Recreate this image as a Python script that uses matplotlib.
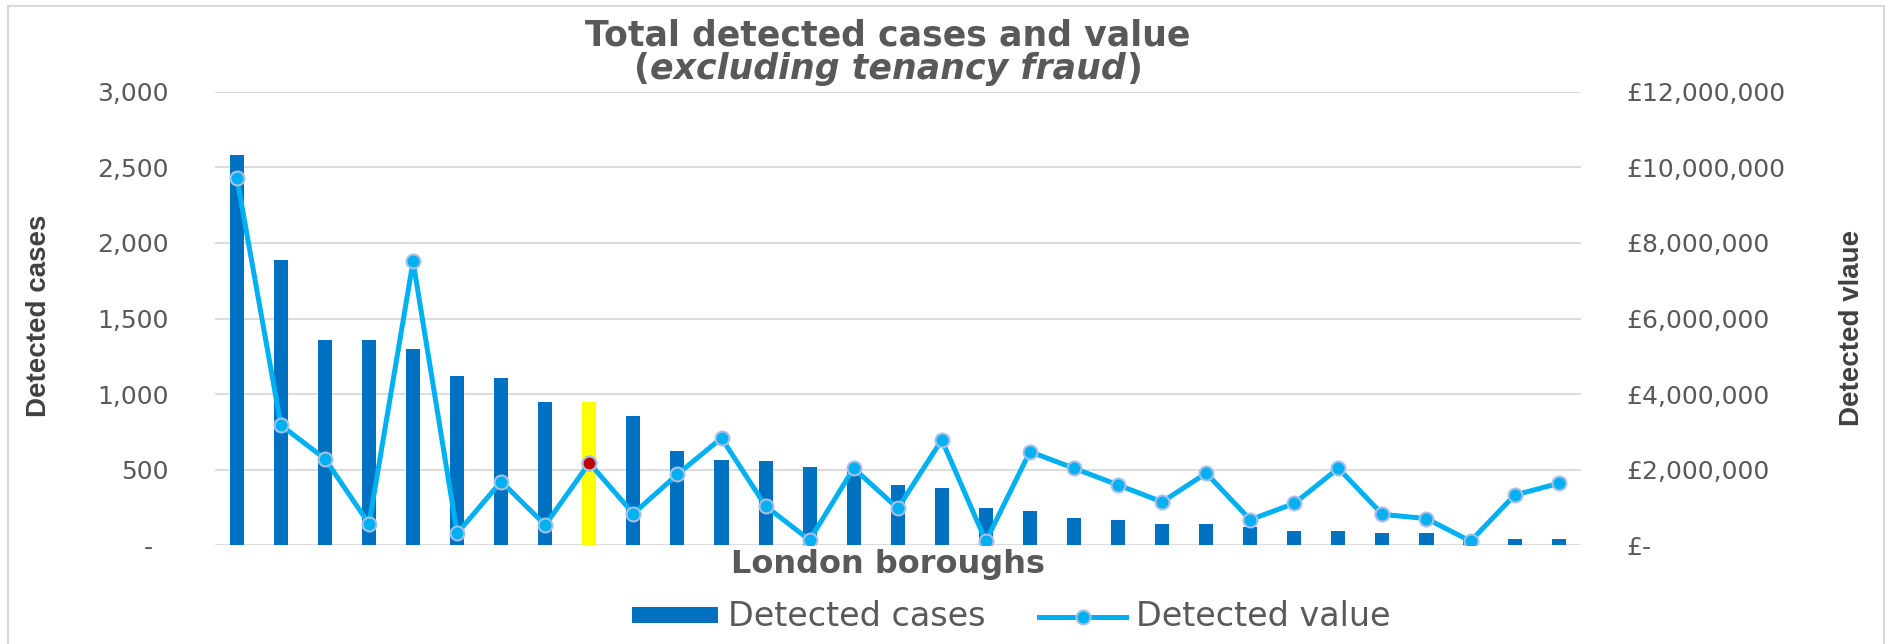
#!/usr/bin/env python3

import numpy as np
import matplotlib
matplotlib.use('Agg')
from matplotlib import pyplot as plt
from matplotlib import font_manager
from matplotlib.patches import Rectangle, Patch
from matplotlib.lines import Line2D

# one entry per London borough, sorted by detected cases
cases = [2580, 1890, 1360, 1360, 1300, 1120, 1110, 947, 947, 855,
         625, 567, 560, 516, 500, 398, 382, 244, 227, 182,
         167, 142, 142, 120, 93, 93, 82, 82, 60, 42, 42]
values = [9.73e6, 3.18e6, 2.29e6, 0.57e6, 7.51e6, 0.32e6, 1.69e6, 0.54e6, 2.18e6, 0.84e6,
          1.88e6, 2.84e6, 1.04e6, 0.14e6, 2.04e6, 0.98e6, 2.79e6, 0.11e6, 2.48e6, 2.04e6,
          1.60e6, 1.15e6, 1.91e6, 0.68e6, 1.11e6, 2.04e6, 0.82e6, 0.71e6, 0.11e6, 1.33e6, 1.64e6]
highlight = 8   # the borough picked out in yellow / red

left_ticks = [0, 500, 1000, 1500, 2000, 2500, 3000]
left_labels = ['-  ', '500', '1,000', '1,500', '2,000', '2,500', '3,000']
right_ticks = [0, 2e6, 4e6, 6e6, 8e6, 10e6, 12e6]
right_labels = ['£-', '£2,000,000', '£4,000,000', '£6,000,000', '£8,000,000',
                '£10,000,000', '£12,000,000']

BAR = '#0070C0'
LINE = '#00B0F0'
EDGE = '#A6BFE6'
GREY = '#595959'
GRID = '#D9D9D9'

installed = {f.name for f in font_manager.fontManager.ttflist}
if 'Liberation Sans Narrow' in installed:
    label_font, label_size = 'Liberation Sans Narrow', 23
else:
    label_font, label_size = 'Liberation Sans', 20

W, H = 1892, 644
fig = plt.figure(figsize=(W / 100, H / 100), dpi=100)
ax = fig.add_axes((214.8 / W, 1 - 545.4 / H, (1580.7 - 214.8) / W, (545.4 - 91.7) / H))
ax2 = ax.twinx()

x = np.arange(len(cases))
colors = [BAR] * len(cases)
colors[highlight] = '#FFFF00'
ax.bar(x, cases, width=0.32, color=colors, zorder=2)

ax2.plot(x, values, color=LINE, lw=3.6, marker='o', ms=10,
         mfc=LINE, mec=EDGE, mew=1.5, zorder=3)
ax2.plot([x[highlight]], [values[highlight]], ls='none', marker='o', ms=10,
         mfc='#C00000', mec=EDGE, mew=1.5, zorder=4)

ax.set_xlim(-0.5, len(cases) - 0.5)
ax.set_ylim(0, 3000)
ax2.set_ylim(0, 12e6)
ax.set_xticks([])
ax.set_yticks(left_ticks)
ax.set_yticklabels(left_labels)
ax2.set_yticks(right_ticks)
ax2.set_yticklabels(right_labels)
ax.set_axisbelow(True)
ax.yaxis.grid(True, color=GRID, lw=1.3)

for a in (ax, ax2):
    for s in a.spines.values():
        s.set_visible(False)
    a.tick_params(length=0, labelsize=18, labelcolor=GREY, pad=33)

# titles and labels
fig.text(888 / W, 1 - 36 / H, 'Total detected cases and value', ha='center', va='center',
         fontsize=25, fontweight='bold', color=GREY)
mid = fig.text(888 / W, 1 - 69 / H, 'excluding tenancy fraud', ha='center', va='center',
               fontsize=25, fontweight='bold', style='italic', color=GREY)
ax.annotate('(', xy=(0, 0.5), xycoords=mid, ha='right', va='center',
            fontsize=25, fontweight='bold', color=GREY, annotation_clip=False)
ax.annotate(')', xy=(1, 0.5), xycoords=mid, ha='left', va='center',
            fontsize=25, fontweight='bold', color=GREY, annotation_clip=False)

fig.text(888 / W, 1 - 564 / H, 'London boroughs', ha='center', va='center',
         fontsize=23, fontweight='bold', color=GREY)

fig.text(39 / W, 1 - 316 / H, 'Detected cases', rotation=90, ha='center', va='center',
         fontsize=label_size, fontweight='bold', family=label_font, color='#404040')
fig.text(1852 / W, 1 - 328 / H, 'Detected vlaue', rotation=90, ha='center', va='center',
         fontsize=label_size, fontweight='bold', family=label_font, color='#404040')

handles = [Patch(facecolor=BAR, edgecolor='none'),
           Line2D([], [], color=LINE, lw=3.6, marker='o', ms=10, mfc=LINE, mec=EDGE, mew=1.5)]
fig.legend(handles, ['Detected cases', 'Detected value'], loc='center',
           bbox_to_anchor=(1011 / W, 1 - 617 / H), ncol=2, frameon=False,
           prop={'size': 24}, labelcolor=GREY, handlelength=2.6, handleheight=0.36,
           handletextpad=0.3, columnspacing=1.6)

# light chart frame
fig.add_artist(Rectangle((8 / W, -0.05), 1876 / W, 1.05 - 6 / H, transform=fig.transFigure,
                         fill=False, ec=GRID, lw=1.5))

fig.savefig('out.png', dpi=100)
